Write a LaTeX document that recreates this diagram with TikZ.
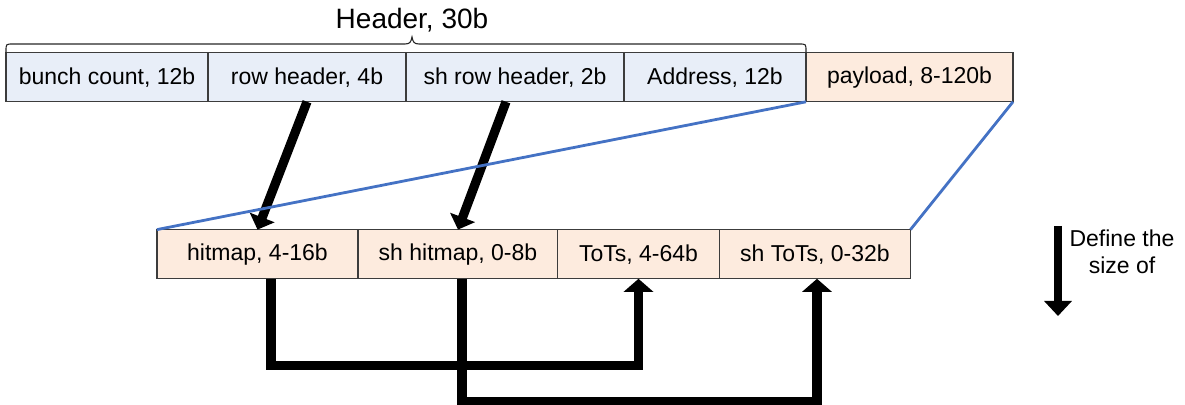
\documentclass[tikz,border=0pt]{standalone}
\usepackage{fontspec}
\setmainfont{Liberation Sans}
\usetikzlibrary{arrows.meta}
\definecolor{hdrfill}{RGB}{232,238,248}
\definecolor{payfill}{RGB}{253,235,222}
\definecolor{cellline}{RGB}{60,60,60}
\definecolor{linkblue}{RGB}{68,114,196}
\tikzset{
  cell/.style={draw=cellline, line width=0.6pt, inner sep=0pt, outer sep=0pt,
    minimum height=24.6pt, font=\fontsize{11.5}{13.5}\selectfont},
  hcell/.style={cell, fill=hdrfill},
  pcell/.style={cell, fill=payfill},
  fatarrow/.style={line width=4.6pt, -{Triangle[width=13pt,length=6.5pt]}},
  bus/.style={line width=4.6pt, -{Triangle[width=14.5pt,length=6.5pt]}, line join=miter},
  zoomline/.style={draw=linkblue, line width=1.4pt},
  bracepath/.style={draw=black!85, line width=0.55pt}
}
\begin{document}
\begin{tikzpicture}[x=0.5pt, y=-0.5pt]
  \useasboundingbox (0,0) rectangle (1185,405);

  % packet header and payload fields
  \node[hcell, minimum width=101pt]  (bunch)  at (107,77.2)   {bunch count, 12b};
  \node[hcell, minimum width=99pt]   (rowhdr) at (307,77.2)   {row header, 4b};
  \node[hcell, minimum width=109pt]  (shrow)  at (515,77.2)   {sh row header, 2b};
  \node[hcell, minimum width=91pt]   (addr)   at (715,77.2)   {Address, 12b};
  \node[pcell, minimum width=103.5pt](pay)    at (909.5,77.2) {payload, 8-120b};

  % payload breakdown
  \node[pcell, minimum width=100.5pt](hit)    at (257.5,254.2) {hitmap, 4-16b};
  \node[pcell, minimum width=100pt]  (shhit)  at (458,254.2)   {sh hitmap, 0-8b};
  \node[pcell, minimum width=81pt]   (tots)   at (638.5,254.2) {ToTs, 4-64b};
  \node[pcell, minimum width=95.5pt] (shtots) at (815,254.2)   {sh ToTs, 0-32b};

  % brace over the header fields
  \draw[bracepath] (bunch.north west) -- (6,51) .. controls (6,44) .. (13,44)
    -- (405,44) .. controls (410,44) and (411,42) .. (412,37)
    .. controls (413,42) and (414,44) .. (419,44)
    -- (799,44) .. controls (806,44) .. (806,51) -- (addr.north east);
  \node[font=\fontsize{14}{16}\selectfont] (hdrlabel) at (412,20) {Header, 30b};

  % header fields that define the sizes of payload fields
  \draw[fatarrow] (rowhdr.south) -- (hit.north);
  \draw[fatarrow] ([xshift=-4.5pt]shrow.south) -- (shhit.north);
  \draw[bus] ([xshift=6.75pt]hit.south) -- ++(0,-43.5pt) -| (tots.south);
  \draw[bus] ([xshift=2pt]shhit.south) -- ++(0,-61.5pt) -| ([xshift=1pt]shtots.south);

  % payload expanded into its fields
  \draw[zoomline] (pay.south west) -- (hit.north west);
  \draw[zoomline] (pay.south east) -- (shtots.north east);

  % legend
  \coordinate (dtop) at (1058,226);
  \coordinate (dbot) at (1058,316);
  \draw[line width=4pt, -{Triangle[width=13.5pt,length=7.5pt]}] (dtop) -- (dbot);
  \node[align=center, font=\fontsize{11.5}{13.5}\selectfont] (deflabel) at (1122,252)
    {Define the\\size of};
\end{tikzpicture}
\end{document}
